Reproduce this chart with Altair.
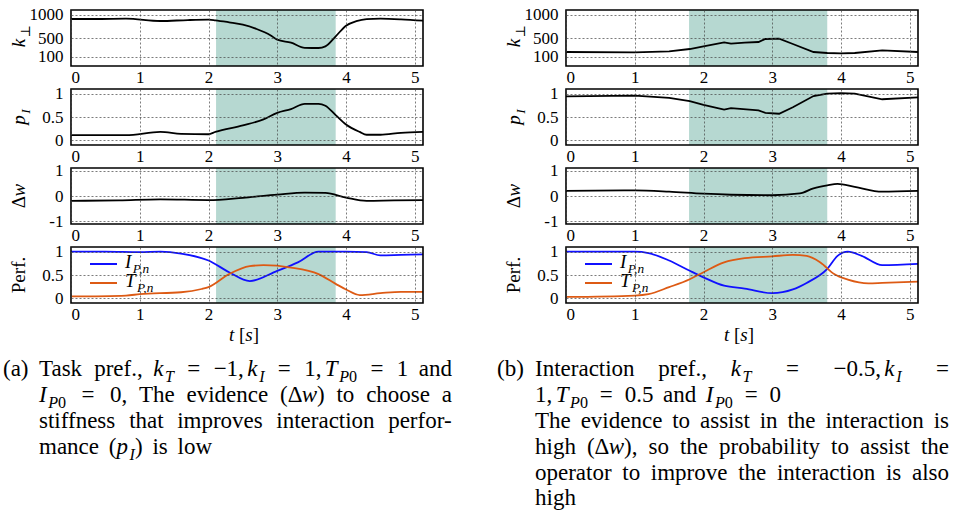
import altair as alt
import pandas as pd

SERIF = "Liberation Serif, DejaVu Serif, serif"
SHADE_COLOR = "#b6d8d1"
BLUE = "#1010ff"
ORANGE = "#dd5a14"

# ---------------- data ----------------
X_DOMAIN = [0, 5.12]
X_TICKS = [0, 1, 2, 3, 4, 5]

SHADE_A = [2.11, 3.85]
SHADE_B = [1.79, 3.80]

# (a) task preference
tA_k = [0, 0.4, 0.8, 1.3, 1.7, 2.0, 2.1, 2.3, 2.5, 2.7, 2.9, 3.0, 3.2, 3.4, 3.6, 3.7, 3.85, 4.0, 4.15, 4.3, 4.5, 4.8, 5.12]
kA = [907, 907, 914, 864, 885, 893, 879, 836, 786, 693, 560, 464, 400, 290, 286, 321, 536, 764, 860, 905, 914, 900, 871]
tA_p = [0, 0.8, 1.3, 1.6, 2.0, 2.1, 2.5, 2.8, 3.0, 3.2, 3.4, 3.6, 3.7, 3.85, 4.0, 4.2, 4.3, 4.5, 4.8, 5.12]
pA = [0.11, 0.11, 0.18, 0.14, 0.13, 0.18, 0.32, 0.45, 0.59, 0.67, 0.78, 0.78, 0.74, 0.54, 0.34, 0.18, 0.12, 0.12, 0.16, 0.18]
tA_w = [0, 0.7, 1.3, 2.0, 2.5, 3.0, 3.4, 3.7, 4.0, 4.3, 4.7, 5.12]
wA = [-0.19, -0.17, -0.13, -0.16, -0.07, 0.05, 0.13, 0.12, -0.06, -0.19, -0.17, -0.16]
tA_I = [0, 0.5, 1.0, 1.3, 1.6, 2.0, 2.3, 2.6, 3.0, 3.3, 3.6, 4.0, 4.3, 4.5, 4.8, 5.12]
IA = [1.0, 1.0, 0.99, 1.0, 0.96, 0.81, 0.56, 0.37, 0.59, 0.77, 1.0, 1.0, 0.99, 0.92, 0.93, 0.94]
tA_T = [0, 0.8, 1.0, 1.6, 1.9, 2.0, 2.3, 2.6, 2.8, 3.2, 3.6, 3.85, 4.0, 4.2, 4.5, 4.8, 5.12]
TA = [0.04, 0.06, 0.09, 0.13, 0.2, 0.24, 0.52, 0.69, 0.71, 0.66, 0.52, 0.31, 0.19, 0.07, 0.11, 0.14, 0.14]

# (b) interaction preference
tB_k = [0, 1.0, 1.5, 1.8, 2.0, 2.3, 2.4, 2.6, 2.8, 2.9, 3.1, 3.3, 3.6, 3.8, 4.0, 4.2, 4.6, 5.12]
kB = [200, 193, 214, 264, 321, 407, 379, 400, 414, 479, 486, 371, 200, 179, 171, 179, 236, 200]
tB_p = [0, 1.0, 1.5, 1.8, 2.0, 2.3, 2.4, 2.8, 2.9, 3.1, 3.3, 3.6, 3.8, 4.0, 4.2, 4.6, 5.12]
pB = [0.94, 0.96, 0.91, 0.84, 0.76, 0.66, 0.69, 0.64, 0.59, 0.57, 0.71, 0.95, 1.0, 1.01, 1.0, 0.88, 0.92]
tB_w = [0, 1.0, 1.5, 2.0, 2.4, 3.0, 3.4, 3.6, 3.8, 3.95, 4.2, 4.6, 5.12]
wB = [0.2, 0.22, 0.17, 0.09, 0.05, 0.03, 0.1, 0.3, 0.42, 0.48, 0.36, 0.17, 0.2]
tB_I = [0, 1.0, 1.2, 1.5, 1.8, 2.0, 2.3, 2.6, 3.0, 3.3, 3.5, 3.8, 3.95, 4.1, 4.3, 4.6, 5.12]
IB = [1.0, 1.0, 0.97, 0.81, 0.59, 0.45, 0.27, 0.21, 0.11, 0.19, 0.33, 0.63, 0.91, 1.0, 0.91, 0.71, 0.74]
tB_T = [0, 1.0, 1.2, 1.5, 1.8, 2.0, 2.3, 2.6, 3.0, 3.3, 3.5, 3.7, 3.9, 4.1, 4.4, 4.6, 5.12]
TB = [0.03, 0.06, 0.09, 0.24, 0.41, 0.56, 0.77, 0.86, 0.9, 0.93, 0.91, 0.77, 0.52, 0.4, 0.32, 0.33, 0.36]

K_DOMAIN, K_TICKS = [-100, 1100], [100, 500, 1000]
P_DOMAIN, P_TICKS = [-0.1, 1.1], [0, 0.5, 1]
W_DOMAIN, W_TICKS = [-1.1, 1.1], [-1, 0, 1]

# text content: (text, style, gap-before)
CAPTION_A_LABEL = "(a)"
CAPTION_A = [
    [("Task", "rm", ""), ("pref.,", "rm", "w"), ("k", "it", "w"), ("T", "subit", ""), ("=", "rm", "m"),
     ("−1,", "rm", "m"), ("k", "it", "t"), ("I", "subit", ""), ("=", "rm", "m"), ("1,", "rm", "m"),
     ("T", "it", "t"), ("P", "subit", ""), ("0", "subrm", ""), ("=", "rm", "m"), ("1", "rm", "m"), ("and", "rm", "w")],
    [("I", "it", ""), ("P", "subit", ""), ("0", "subrm", ""), ("=", "rm", "m"), ("0,", "rm", "m"),
     ("The", "rm", "w"), ("evidence", "rm", "w"), ("(Δ", "rm", "w"), ("w", "it", ""), (")", "rm", ""),
     ("to", "rm", "w"), ("choose", "rm", "w"), ("a", "rm", "w")],
    [("stiffness", "rm", ""), ("that", "rm", "w"), ("improves", "rm", "w"), ("interaction", "rm", "w"), ("perfor-", "rm", "w")],
    [("mance", "rm", ""), ("(", "rm", "w"), ("p", "it", ""), ("I", "subit", ""), (")", "rm", ""), ("is", "rm", "w"), ("low", "rm", "w")],
]
CAPTION_B_LABEL = "(b)"
CAPTION_B = [
    [("Interaction", "rm", ""), ("pref.,", "rm", "w"), ("k", "it", "w"), ("T", "subit", ""), ("=", "rm", "m"),
     ("−0.5,", "rm", "m"), ("k", "it", "t"), ("I", "subit", ""), ("=", "rm", "m")],
    [("1,", "rm", ""), ("T", "it", "t"), ("P", "subit", ""), ("0", "subrm", ""), ("=", "rm", "m"), ("0.5", "rm", "m"),
     ("and", "rm", "w"), ("I", "it", "w"), ("P", "subit", ""), ("0", "subrm", ""), ("=", "rm", "m"), ("0", "rm", "m")],
    [("The", "rm", ""), ("evidence", "rm", "w"), ("to", "rm", "w"), ("assist", "rm", "w"), ("in", "rm", "w"),
     ("the", "rm", "w"), ("interaction", "rm", "w"), ("is", "rm", "w")],
    [("high", "rm", ""), ("(Δ", "rm", "w"), ("w", "it", ""), ("),", "rm", ""), ("so", "rm", "w"), ("the", "rm", "w"),
     ("probability", "rm", "w"), ("to", "rm", "w"), ("assist", "rm", "w"), ("the", "rm", "w")],
    [("operator", "rm", ""), ("to", "rm", "w"), ("improve", "rm", "w"), ("the", "rm", "w"), ("interaction", "rm", "w"),
     ("is", "rm", "w"), ("also", "rm", "w")],
    [("high", "rm", "")],
]
Y_TITLES = [
    [("k", "it", ""), ("⊥", "subrm", "")],
    [("p", "it", ""), ("I", "subit", "")],
    [("Δ", "rm", ""), ("w", "it", "")],
    [("Perf.", "rm", "")],
]
X_TITLE = [("t", "it", ""), ("[", "rm", "w"), ("s", "it", ""), ("]", "rm", "")]
LEG_I = [("I", "it", ""), ("P,n", "subit", "")]
LEG_T = [("T", "it", ""), ("P,n", "subit", "")]

# ---------------- layout ----------------
PW, PH = 352, 56
VSP, HSP = 23, 143
OX, OY = 71, 10
COL_DX = PW + HSP

RM = {' ': 250, '(': 333, ')': 333, ',': 250, '.': 250, '-': 333, '=': 564, '[': 333, ']': 333,
      '−': 564, 'Δ': 612, '⊥': 660, 'I': 333, 'P': 556, 'T': 611,
      'a': 444, 'b': 500, 'c': 444, 'd': 500, 'e': 444, 'f': 333, 'g': 500, 'h': 500, 'i': 278,
      'j': 278, 'k': 500, 'l': 278, 'm': 778, 'n': 500, 'o': 500, 'p': 500, 'q': 500, 'r': 333,
      's': 389, 't': 278, 'u': 500, 'v': 500, 'w': 722, 'x': 500, 'y': 500, 'z': 444}
IT = {'I': 333, 'P': 611, 'T': 556, 'k': 444, 'p': 500, 'w': 667, 't': 278, 's': 389, 'n': 500, ',': 250}
GAP = {"": 0.0, "t": 0.15, "w": 0.25, "m": 0.25}
STRETCH = {"": 0.0, "t": 0.0, "w": 1.0, "m": 1.6}
SUB_KERN = 0.07  # small gap between an italic letter and its subscript


def tok_width(text, style, F):
    table = IT if "it" in style else RM
    scale = 0.7 if style.startswith("sub") else 1.0
    return sum((table.get(c) or RM.get(c, 500)) for c in text) / 1000.0 * F * scale


def layout(tokens, x0, y, F, x1=None):
    items = []
    prev = None
    for i, (text, style, gap) in enumerate(tokens):
        g = 0 if i == 0 else GAP[gap] * F
        if style.startswith("sub") and prev == "it":
            g += SUB_KERN * F
        s = 0 if i == 0 else STRETCH[gap]
        items.append((text, style, g, s, tok_width(text, style, F)))
        prev = style
    per = 0
    if x1 is not None:
        total = sum(it[2] + it[4] for it in items)
        st = sum(it[3] for it in items)
        if st > 0:
            per = ((x1 - x0) - total) / st
    out = []
    x = x0
    for i, (text, style, g, s, w) in enumerate(items):
        if i > 0:
            x += g + s * per
        sub = style.startswith("sub")
        out.append(dict(X=x, Y=y + (0.25 * F if sub else 0), text=text,
                        fs=F * (0.7 if sub else 1.0), italic="it" in style, ang=0))
        x += w
    return out


texts = []
F_CAP = 23
cap_base = [376, 402, 428, 454, 480, 505]
texts.append(dict(X=3, Y=cap_base[0], text=CAPTION_A_LABEL, fs=F_CAP, italic=False, ang=0))
ends_A = [452, 452, 452, 212]
for i, line in enumerate(CAPTION_A):
    texts += layout(line, 39, cap_base[i], F_CAP, ends_A[i])
texts.append(dict(X=497, Y=cap_base[0], text=CAPTION_B_LABEL, fs=F_CAP, italic=False, ang=0))
ends_B = [949, 781, 949, 949, 949, None]
for i, line in enumerate(CAPTION_B):
    texts += layout(line, 535, cap_base[i], F_CAP, ends_B[i])

F_T = 19
for col in range(2):
    dx = col * COL_DX
    for j, segs in enumerate(Y_TITLES):
        yc = OY + j * (PH + VSP) + PH / 2
        segs_l = layout(segs, 0, 0, F_T)
        L = segs_l[-1]["X"] + tok_width(segs[-1][0], segs[-1][1], F_T)
        for s in segs_l:
            texts.append(dict(X=25 + dx + s["Y"], Y=yc + L / 2 - s["X"], text=s["text"],
                              fs=s["fs"], italic=s["italic"], ang=270))
    texts += [dict(d, X=d["X"] + dx) for d in layout(X_TITLE, 229, 341, F_T)]
    texts += [dict(d, X=d["X"] + dx) for d in layout(LEG_I, 125, 268, F_T)]
    texts += [dict(d, X=d["X"] + dx) for d in layout(LEG_T, 125, 287, F_T)]

# overlay coordinates are relative to the top-left panel's origin
tdf = pd.DataFrame(texts)
tdf["x"] = tdf["X"] - OX
tdf["y"] = tdf["Y"] - OY

rules = pd.DataFrame({
    "x": [90 - OX, 90 - OX, 90 - OX + COL_DX, 90 - OX + COL_DX],
    "x2": [117 - OX, 117 - OX, 117 - OX + COL_DX, 117 - OX + COL_DX],
    "y": [264 - OY, 283 - OY, 264 - OY, 283 - OY],
    "c": [BLUE, ORANGE, BLUE, ORANGE],
})


def text_layer(df, italic):
    return alt.Chart(df).mark_text(font=SERIF, align="left", baseline="alphabetic", color="black",
                                   fontStyle="italic" if italic else "normal").encode(
        x=alt.X("x:Q", scale=None, axis=None),
        y=alt.Y("y:Q", scale=None, axis=None),
        text="text:N",
        size=alt.Size("fs:Q", scale=None, legend=None),
        angle=alt.Angle("ang:Q", scale=None, legend=None),
    )


rule_layer = alt.Chart(rules).mark_rule(strokeWidth=2).encode(
    x=alt.X("x:Q", scale=None, axis=None), x2="x2:Q",
    y=alt.Y("y:Q", scale=None, axis=None),
    color=alt.Color("c:N", scale=None, legend=None),
)
overlay = alt.layer(text_layer(tdf[~tdf["italic"]], False), text_layer(tdf[tdf["italic"]], True), rule_layer)


def panel(series, ydom, yticks, shade, fmt, interp="monotone", extra=None):
    xs = alt.Scale(domain=X_DOMAIN, nice=False, zero=False)
    ys = alt.Scale(domain=ydom, nice=False, zero=False)
    xaxis = alt.Axis(values=X_TICKS, format="d", title=None, grid=True,
                     ticks=False, domain=False, labelPadding=3, zindex=1)
    yaxis = alt.Axis(values=yticks, format=fmt, title=None, grid=True,
                     ticks=False, domain=False, labelPadding=8, zindex=1,
                     labelExpr="replace(datum.label, '−', '-')")
    rect = alt.Chart(pd.DataFrame({"x0": [shade[0]], "x1": [shade[1]]})).mark_rect(
        color=SHADE_COLOR).encode(
        x=alt.X("x0:Q", scale=xs, axis=xaxis, title=None), x2="x1:Q",
        y=alt.value(0), y2=alt.value(PH))
    rows = []
    for name, ts, vs, color in series:
        for t, v in zip(ts, vs):
            rows.append(dict(s=name, t=t, v=v, c=color))
    line = alt.Chart(pd.DataFrame(rows)).mark_line(strokeWidth=1.8, interpolate=interp).encode(
        x=alt.X("t:Q", scale=xs, axis=xaxis, title=None),
        y=alt.Y("v:Q", scale=ys, axis=yaxis, title=None),
        color=alt.Color("c:N", scale=None, legend=None),
        detail="s:N",
    )
    frame = alt.Chart(pd.DataFrame({"f": [0]})).mark_rect(
        fillOpacity=0, stroke="black", strokeWidth=1.6).encode(
        x=alt.value(0), x2=alt.value(PW), y=alt.value(0), y2=alt.value(PH))
    ch = alt.layer(rect, line, frame)
    if extra is not None:
        ch = alt.layer(ch, extra).resolve_scale(
            x="independent", y="independent", color="independent", size="independent", angle="independent")
    return ch.properties(width=PW, height=PH)


charts = [
    panel([("k", tA_k, kA, "black")], K_DOMAIN, K_TICKS, SHADE_A, "d", extra=overlay),
    panel([("k", tB_k, kB, "black")], K_DOMAIN, K_TICKS, SHADE_B, "d", "linear"),
    panel([("p", tA_p, pA, "black")], P_DOMAIN, P_TICKS, SHADE_A, "~g"),
    panel([("p", tB_p, pB, "black")], P_DOMAIN, P_TICKS, SHADE_B, "~g", "linear"),
    panel([("w", tA_w, wA, "black")], W_DOMAIN, W_TICKS, SHADE_A, "d"),
    panel([("w", tB_w, wB, "black")], W_DOMAIN, W_TICKS, SHADE_B, "d"),
    panel([("I", tA_I, IA, BLUE), ("T", tA_T, TA, ORANGE)], P_DOMAIN, P_TICKS, SHADE_A, "~g"),
    panel([("I", tB_I, IB, BLUE), ("T", tB_T, TB, ORANGE)], P_DOMAIN, P_TICKS, SHADE_B, "~g"),
]

chart = alt.concat(*charts, columns=2, spacing={"row": VSP, "column": HSP}, bounds="flush").properties(
    padding={"left": 3, "top": 5, "right": 0, "bottom": 0}
).configure_view(strokeWidth=0).configure_axis(
    labelFont=SERIF, labelFontSize=17, labelColor="black",
    gridColor="#444444", gridDash=[2, 2], gridWidth=0.7, gridOpacity=1,
)

chart.save("out.html", embed_options={"renderer": "svg", "actions": False})
